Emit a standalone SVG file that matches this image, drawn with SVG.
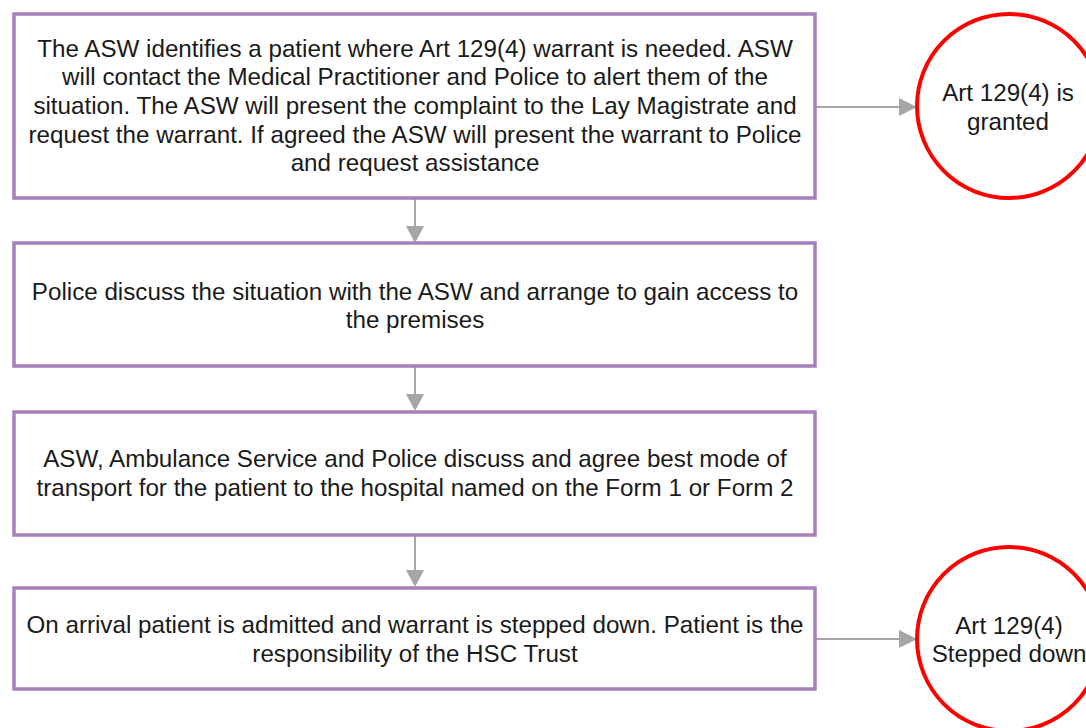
<svg xmlns="http://www.w3.org/2000/svg" width="1086" height="728" viewBox="0 0 1086 728">
<defs>
<style>
.box{fill:#fff;stroke:#a67fbd;stroke-width:3.5}
.circ{fill:#fff;stroke:#ff0000;stroke-width:4}
.t{font-family:"Liberation Sans",Arial,sans-serif;font-size:24.2px;fill:#1a1a1a;text-anchor:middle}
.ln{stroke:#a6a6a6;stroke-width:2;fill:none}
.hd{fill:#a6a6a6}
</style>
</defs>
<rect width="1086" height="728" fill="#fff"/>
<g id="connectors">
<line class="ln" x1="815" y1="107" x2="902" y2="107"/>
<path class="hd" d="M899,98 L917,107 L899,116 z"/>
<line class="ln" x1="415" y1="199" x2="415" y2="228"/>
<path class="hd" d="M406,226 L415,243 L424,226 z"/>
<line class="ln" x1="415" y1="367" x2="415" y2="396"/>
<path class="hd" d="M406,394 L415,411 L424,394 z"/>
<line class="ln" x1="415" y1="536" x2="415" y2="572"/>
<path class="hd" d="M406,570 L415,587 L424,570 z"/>
<line class="ln" x1="815" y1="639" x2="902" y2="639"/>
<path class="hd" d="M899,630 L917,639 L899,648 z"/>
</g>
<g id="box1">
<rect class="box" x="14" y="14" width="801" height="184"/>
<text class="t"><tspan x="415" y="56.5">The ASW identifies a patient where Art 129(4) warrant is needed. ASW</tspan><tspan x="415" y="85">will contact the Medical Practitioner and Police to alert them of the</tspan><tspan x="415" y="113.5">situation. The ASW will present the complaint to the Lay Magistrate and</tspan><tspan x="415" y="142.5">request the warrant. If agreed the ASW will present the warrant to Police</tspan><tspan x="415" y="170.5">and request assistance</tspan></text>
</g>
<g id="box2">
<rect class="box" x="14" y="243" width="801" height="123"/>
<text class="t"><tspan x="415" y="299.5">Police discuss the situation with the ASW and arrange to gain access to</tspan><tspan x="415" y="327.5">the premises</tspan></text>
</g>
<g id="box3">
<rect class="box" x="14" y="412" width="801" height="123"/>
<text class="t"><tspan x="415" y="466.5">ASW, Ambulance Service and Police discuss and agree best mode of</tspan><tspan x="415" y="495.5">transport for the patient to the hospital named on the Form 1 or Form 2</tspan></text>
</g>
<g id="box4">
<rect class="box" x="14" y="588" width="801" height="101"/>
<text class="t"><tspan x="415" y="632.5">On arrival patient is admitted and warrant is stepped down. Patient is the</tspan><tspan x="415" y="661.5">responsibility of the HSC Trust</tspan></text>
</g>
<g id="circle1">
<circle class="circ" cx="1009" cy="106" r="92"/>
<text class="t"><tspan x="1008" y="100.5">Art 129(4) is</tspan><tspan x="1008" y="129.5">granted</tspan></text>
</g>
<g id="circle2">
<circle class="circ" cx="1009" cy="639" r="92"/>
<text class="t"><tspan x="1009" y="633.5">Art 129(4)</tspan><tspan x="1009" y="661.5">Stepped down</tspan></text>
</g>
</svg>
